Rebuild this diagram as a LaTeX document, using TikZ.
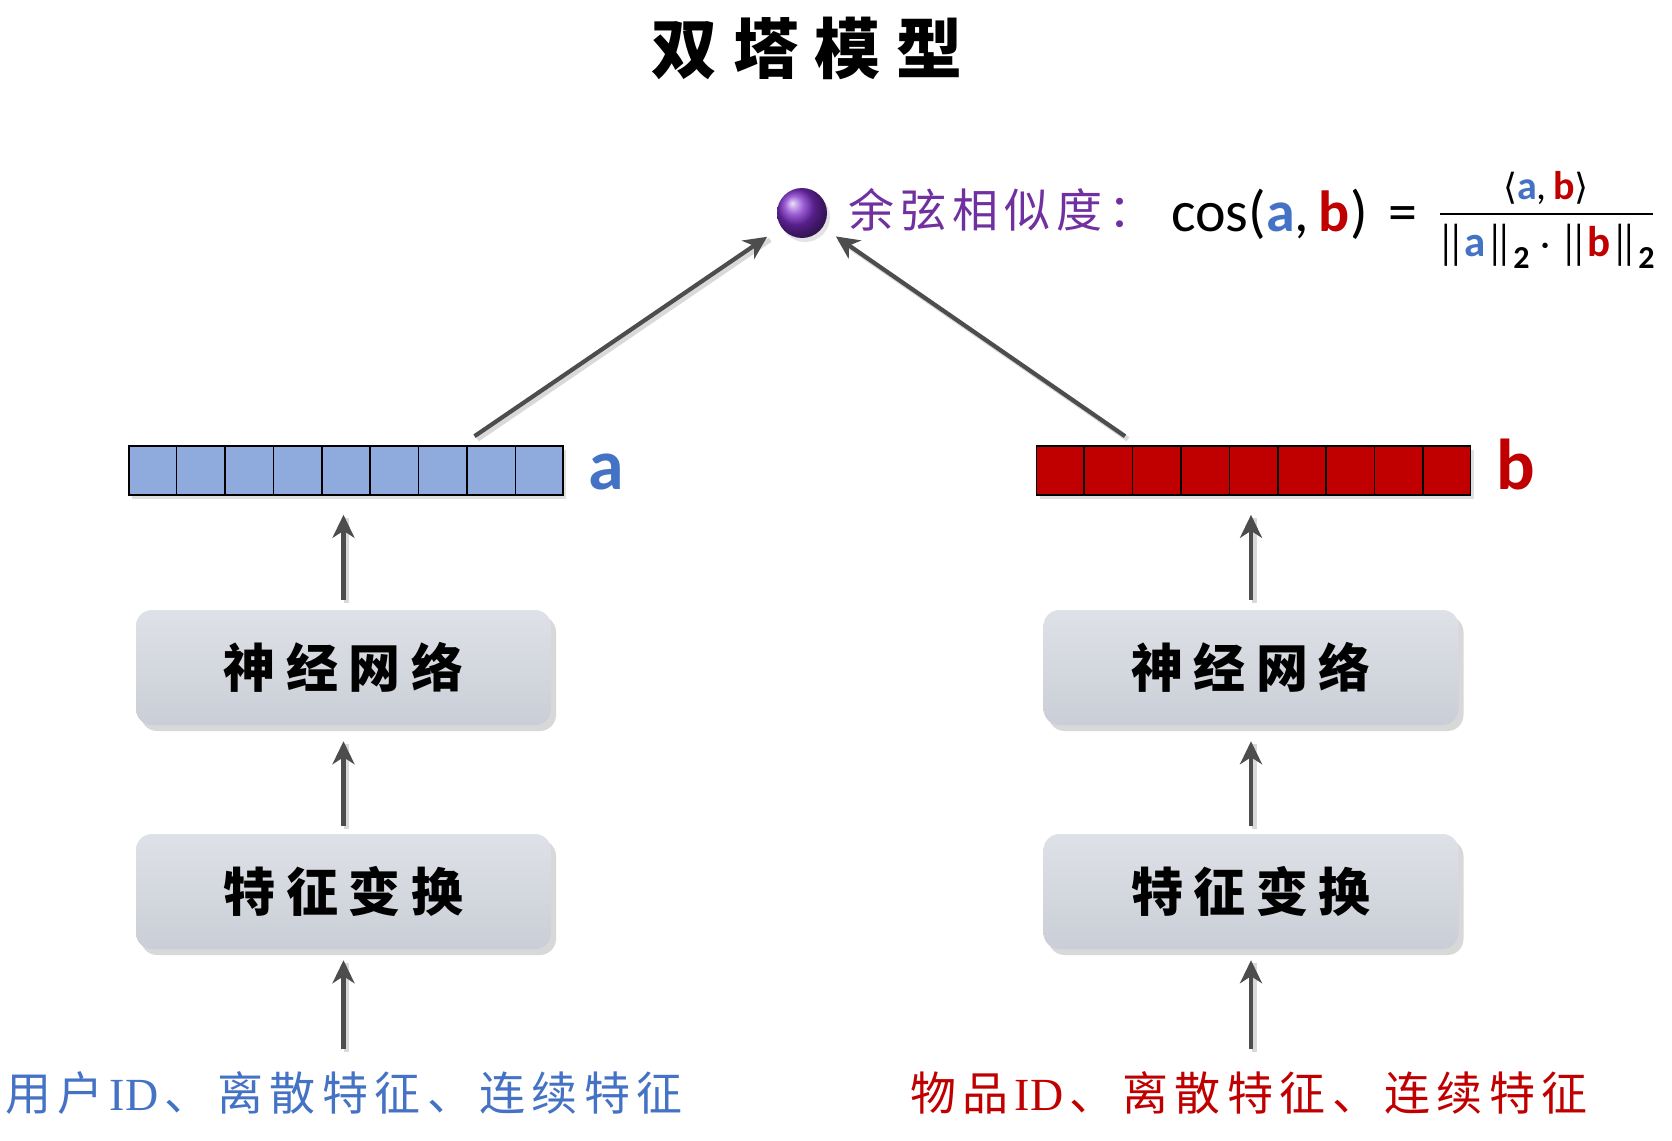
\documentclass[tikz,border=0pt]{standalone}
\usepackage{fontspec}
\usepackage{graphicx}
\setmainfont{Carlito}
\newfontfamily\cjk{Noto Sans CJK SC}
\newfontfamily\carl{Carlito}
\newfontfamily\lserif{Liberation Serif}
\newfontfamily\djv{DejaVu Sans}
\usetikzlibrary{arrows.meta,shadows,calc}
\definecolor{ablue}{HTML}{4472C4}
\definecolor{vblue}{HTML}{8FAADC}
\definecolor{bred}{HTML}{C00000}
\definecolor{purp}{HTML}{7030A0}
\definecolor{arr}{HTML}{4D4D4D}
\definecolor{boxtop}{HTML}{DEE1E7}
\definecolor{boxbot}{HTML}{CACED6}
\newcommand\fsz[1]{\fontsize{#1}{#1}\selectfont}
\newcommand\cg{\hspace{0.14em}}
\newcommand\pg{\hspace{0.13em}}
\newcommand\vbar{\raisebox{-0.07em}{\scalebox{1}[1.25]{|}}}
\newcommand\dbar{\vbar\kern-0.2em\vbar}
\newcommand\subtwo{\raisebox{-0.32em}{\fsz{32}\bfseries 2}}
\tikzset{
  arw/.style={draw=arr, line width=4.2pt, -{Stealth[length=23pt,width=22pt,inset=7pt]},
    preaction={draw=black!15, line width=5pt, -, transform canvas={shift={(3pt,-3pt)}}}},
  nnbox/.style={rounded corners=16pt, minimum width=415pt, minimum height=115pt,
    top color=boxtop, bottom color=boxbot, draw=none,
    drop shadow={opacity=0.3, shadow xshift=5pt, shadow yshift=-6pt},
    font=\cjk\bfseries\fsz{52}},
  vecbox/.style={draw=black, line width=1.6pt, minimum width=434pt, minimum height=49pt, inner sep=0pt,
    drop shadow={opacity=0.25, shadow xshift=3pt, shadow yshift=-4pt}},
  cell/.style={draw=black, line width=1.6pt},
  feat/.style={font=\cjk\fsz{46}},
}
\begin{document}
\begin{tikzpicture}[x=1pt,y=-1pt]
\useasboundingbox[fill=white] (0,0) rectangle (1672,1140);

% title
\node[font=\cjk\bfseries\fsz{66}] (title) at (807,48) {双\hspace{.24em}塔\hspace{.24em}模\hspace{.24em}型};

% ball and similarity
\node[circle, minimum size=50pt, inner sep=0pt, shading=ball, ball color={rgb,255:red,125;green,45;blue,200},
  drop shadow={opacity=0.22, shadow xshift=3pt, shadow yshift=-4pt}] (ball) at (802,213) {};
\node[anchor=west, text=purp, font=\cjk\fsz{46}, inner sep=0pt] (simlabel) at (848,210) {余\pg 弦\pg 相\pg 似\pg 度\pg ：};
\node[anchor=base west, font=\carl\fsz{58}, inner sep=0pt] (cosf) at (1171,231)
  {cos(\textcolor{ablue}{\bfseries a},\,\textcolor{bred}{\bfseries b})\hspace{0.36em}=};
\coordinate (fl) at (1440,214);
\coordinate (fr) at (1653,214);
\draw[line width=2pt] (fl) -- (fr);
\node[font=\carl\fsz{40}, inner sep=0pt] (num) at (1546,188)
  {{\djv\fsz{36}⟨}\textcolor{ablue}{\bfseries a},\,\textcolor{bred}{\bfseries b}{\djv\fsz{36}⟩}};
\node[anchor=base, font=\carl\fsz{38}, inner sep=0pt] (den) at (1546,256)
  {\dbar{\fsz{43}\textcolor{ablue}{\bfseries a}}\dbar\subtwo\hspace{0.28em}·\hspace{0.28em}\dbar{\fsz{43}\textcolor{bred}{\bfseries b}}\dbar\subtwo};

% vectors
\node[vecbox, fill=vblue] (veca) at (346,470.5) {};
\node[vecbox, fill=bred] (vecb) at (1253.5,470.5) {};
\foreach \i in {1,...,8}{
  \draw[cell] ($(veca.north west)!\i/9!(veca.north east)$) -- ($(veca.south west)!\i/9!(veca.south east)$);
  \draw[cell] ($(vecb.north west)!\i/9!(vecb.north east)$) -- ($(vecb.south west)!\i/9!(vecb.south east)$);
}
\node[font=\carl\bfseries\fsz{72}, text=ablue, anchor=base west, inner sep=0pt] (la) at (588,489) {a};
\node[font=\carl\bfseries\fsz{72}, text=bred, anchor=base west, inner sep=0pt] (lb) at (1496,489) {b};

% boxes
\node[nnbox] (nna) at (343.5,667.5) {神\hspace{.2em}经\hspace{.2em}网\hspace{.2em}络};
\node[nnbox] (fta) at (343.5,891.5) {特\hspace{.2em}征\hspace{.2em}变\hspace{.2em}换};
\node[nnbox] (nnb) at (1251,667.5) {神\hspace{.2em}经\hspace{.2em}网\hspace{.2em}络};
\node[nnbox] (ftb) at (1251,891.5) {特\hspace{.2em}征\hspace{.2em}变\hspace{.2em}换};

% inputs
\node[feat, text=ablue] (ina) at (344,1093) {用\cg 户\cg{\lserif ID}\cg 、\cg 离\cg 散\cg 特\cg 征\cg 、\cg 连\cg 续\cg 特\cg 征};
\node[feat, text=bred] (inb) at (1249,1093) {物\cg 品\cg{\lserif ID}\cg 、\cg 离\cg 散\cg 特\cg 征\cg 、\cg 连\cg 续\cg 特\cg 征};

% arrows
\draw[arw, shorten <=19pt, shorten >=11pt] (ina.north -| fta.south) -- (fta.south);
\draw[arw, shorten <=8pt, shorten >=16pt] (fta.north) -- (nna.south);
\draw[arw, shorten <=10pt, shorten >=19pt] (nna.north) -- (nna.north |- veca.south);
\draw[arw, shorten <=19pt, shorten >=11pt] (inb.north -| ftb.south) -- (ftb.south);
\draw[arw, shorten <=8pt, shorten >=16pt] (ftb.north) -- (nnb.south);
\draw[arw, shorten <=10pt, shorten >=19pt] (nnb.north) -- (nnb.north |- vecb.south);

\coordinate (sa) at ($(veca.north west)!0.795!(veca.north east)+(0,-9)$);
\coordinate (sb) at ($(vecb.north west)!0.205!(vecb.north east)+(0,-9)$);
\draw[arw, shorten >=17pt] (sa) -- (ball);
\draw[arw, shorten >=16pt] (sb) -- (ball);
\end{tikzpicture}
\end{document}
